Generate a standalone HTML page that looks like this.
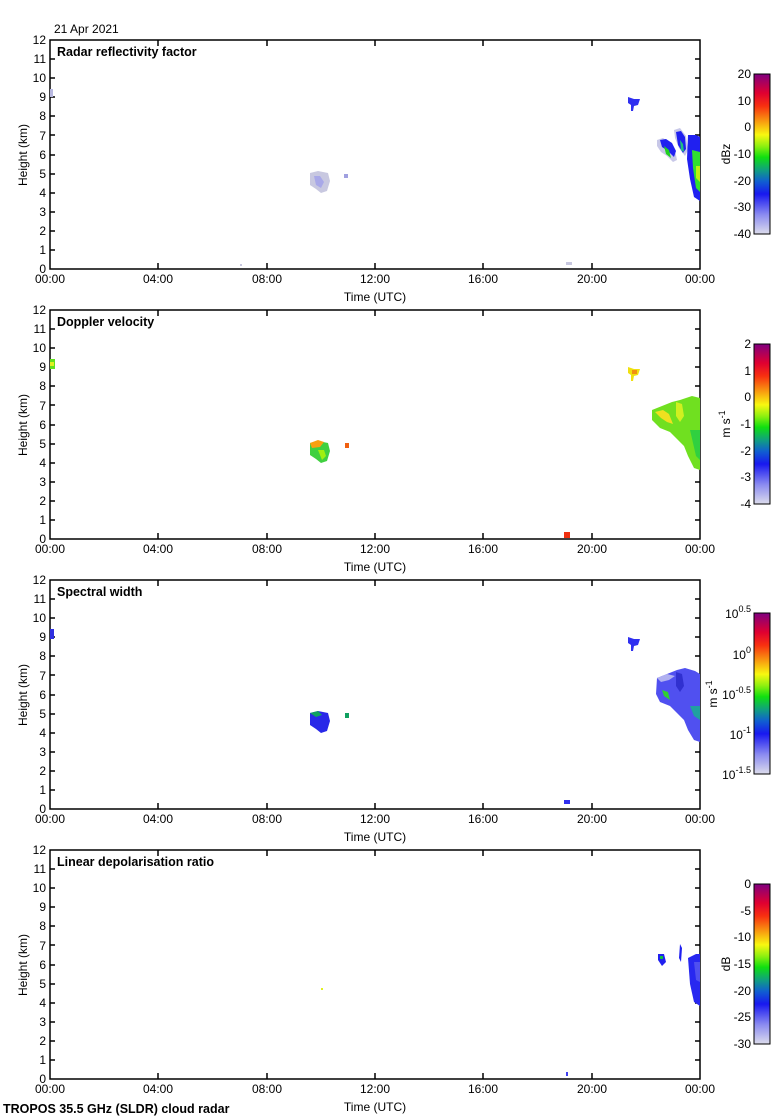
<!DOCTYPE html>
<html><head><meta charset="utf-8"><style>
html,body{margin:0;padding:0;background:#fff}
svg{display:block}
text{font-family:"Liberation Sans",sans-serif;font-size:12px;fill:#000}
.t{font-weight:bold;font-size:12.5px}
</style></head><body>
<svg width="780" height="1120" viewBox="0 0 780 1120" xmlns="http://www.w3.org/2000/svg">
<defs>
<linearGradient id="cb" x1="0" y1="1" x2="0" y2="0">
<stop offset="0" stop-color="#dcdcec"/>
<stop offset="0.12" stop-color="#8c8cf0"/>
<stop offset="0.25" stop-color="#1818f0"/>
<stop offset="0.33" stop-color="#1060d0"/>
<stop offset="0.40" stop-color="#10a080"/>
<stop offset="0.48" stop-color="#10e010"/>
<stop offset="0.55" stop-color="#90f010"/>
<stop offset="0.62" stop-color="#f8f810"/>
<stop offset="0.70" stop-color="#f8a010"/>
<stop offset="0.80" stop-color="#f83010"/>
<stop offset="0.88" stop-color="#e00030"/>
<stop offset="1" stop-color="#800080"/>
</linearGradient>
<g id="axes">
<rect x="50" y="0" width="650" height="229" fill="none" stroke="#000" stroke-width="1.5"/>
<path d="M50 210h5M50 191h5M50 172h5M50 153h5M50 134h5M50 115h5M50 95h5M50 76h5M50 57h5M50 38h5M50 19h5M700 210h-5M700 191h-5M700 172h-5M700 153h-5M700 134h-5M700 115h-5M700 95h-5M700 76h-5M700 57h-5M700 38h-5M700 19h-5M158 229v-6M267 229v-6M375 229v-6M483 229v-6M592 229v-6M158 0v6M267 0v6M375 0v6M483 0v6M592 0v6" stroke="#000" stroke-width="1.5" fill="none"/>
<g text-anchor="end">
<text x="46" y="233">0</text><text x="46" y="214">1</text><text x="46" y="195">2</text><text x="46" y="176">3</text><text x="46" y="157">4</text><text x="46" y="138">5</text><text x="46" y="119">6</text><text x="46" y="100">7</text><text x="46" y="80">8</text><text x="46" y="61">9</text><text x="46" y="42">10</text><text x="46" y="23">11</text><text x="46" y="4">12</text>
</g>
<g text-anchor="middle">
<text x="50" y="243">00:00</text><text x="158" y="243">04:00</text><text x="267" y="243">08:00</text><text x="375" y="243">12:00</text><text x="483" y="243">16:00</text><text x="592" y="243">20:00</text><text x="700" y="243">00:00</text>
<text x="375" y="261">Time (UTC)</text>
</g>
<text transform="translate(27,115) rotate(-90)" text-anchor="middle">Height (km)</text>
</g>
</defs>

<text x="54" y="33">21 Apr 2021</text>

<!-- Panel 1 -->
<g transform="translate(0,40)">
<use href="#axes"/>
<text class="t" x="57" y="16">Radar reflectivity factor</text>
<path d="M50 49h3v8h-3z" fill="#b8b8e0"/>
<path d="M310 133l8-2 10 2 2 8-3 10-6 2-5-4-6-4z" fill="#c8c8e0"/>
<path d="M314 136l6 0 4 6-3 6-5-3z" fill="#a8a8e8"/>
<path d="M344 134h4v4h-4z" fill="#a0a0e0"/>
<path d="M628 57l6 2 6 0-2 6-4 1-1 5h-2l0-6-3-2z" fill="#3030f0"/>
<path d="M657 100l6-2 6 4 6 8 2 10-4 2-6-6-6-4-4-6z" fill="#c8c8e8"/>
<path d="M660 100l6-1 6 4 4 8-2 6-6-6-6-4z" fill="#2020f0"/>
<path d="M674 90l6-2 6 8 2 14-3 6-6-8-4-10z" fill="#c8c8e8"/>
<path d="M676 92l5-1 4 6 1 12-3 4-5-8z" fill="#2020f0"/>
<path d="M688 95l8 0 4 2v64l-6-4-4-18-3-20z" fill="#2020f0"/>
<path d="M664 106l5 4 2 8-5-4z" fill="#20d020"/>
<path d="M692 110l8 2v40l-4-4-3-20z" fill="#30e030"/>
<path d="M696 126l4 0v16l-4-4z" fill="#c0f010"/>
<path d="M680 100l3 4 1 8-3-2z" fill="#20c080"/>
<path d="M240 224h2v2h-2zM566 222h6v3h-6z" fill="#c8c8e0"/>
<rect x="754" y="34" width="16" height="160" fill="url(#cb)" stroke="#000"/>
<g text-anchor="end" font-size="13"><text x="751" y="38">20</text><text x="751" y="65">10</text><text x="751" y="91">0</text><text x="751" y="118">-10</text><text x="751" y="145">-20</text><text x="751" y="171">-30</text><text x="751" y="198">-40</text></g>
<text transform="translate(730,114) rotate(-90)" text-anchor="middle">dBz</text>
</g>

<!-- Panel 2 -->
<g transform="translate(0,310)">
<use href="#axes"/>
<text class="t" x="57" y="16">Doppler velocity</text>
<path d="M50 49h5v10h-5z" fill="#60e020"/>
<path d="M50 52h4v4h-4z" fill="#e0f020"/>
<path d="M310 133l8-2 10 2 2 8-3 10-6 2-5-4-6-4z" fill="#40d040"/>
<path d="M310 133l8-3 6 2-4 5-8 1z" fill="#f8a010"/>
<path d="M318 140l6 0 2 6-4 4z" fill="#a0f010"/>
<path d="M345 133h4v5h-4z" fill="#f06010"/>
<path d="M564 222h6v6h-6z" fill="#f03010"/>
<path d="M628 57l6 2 6 0-2 6-4 1-1 5h-2l0-6-3-2z" fill="#f0e010"/>
<path d="M632 60h5v4h-5z" fill="#f09010"/>
<path d="M652 100l10-4 10-4 8-2 12-4 8 2v72l-6-2-6-12-4-10-6-6-8-8-10-4-8-8z" fill="#70e020"/>
<path d="M655 102l8-2 6 4 4 10-6-2-6-4z" fill="#f0e020"/>
<path d="M676 92l6 2 2 12-4 6-4-6z" fill="#d0f020"/>
<path d="M690 120l10 0v30l-4-4z" fill="#30d040"/>
<rect x="754" y="34" width="16" height="160" fill="url(#cb)" stroke="#000"/>
<g text-anchor="end" font-size="13"><text x="751" y="38">2</text><text x="751" y="65">1</text><text x="751" y="91">0</text><text x="751" y="118">-1</text><text x="751" y="145">-2</text><text x="751" y="171">-3</text><text x="751" y="198">-4</text></g>
<text transform="translate(730,114) rotate(-90)" text-anchor="middle">m s<tspan dy="-5" font-size="9">-1</tspan></text>
</g>

<!-- Panel 3 -->
<g transform="translate(0,580)">
<use href="#axes"/>
<text class="t" x="57" y="16">Spectral width</text>
<path d="M50 49h4v10h-4z" fill="#3030e0"/>
<path d="M310 133l8-2 10 2 2 8-3 10-6 2-5-4-6-4z" fill="#2828e8"/>
<path d="M310 133l8-2 4 4-6 2z" fill="#10a060"/>
<path d="M345 133h4v5h-4z" fill="#10a060"/>
<path d="M564 220h6v4h-6z" fill="#3030f0"/>
<path d="M628 57l6 2 6 0-2 6-4 1-1 5h-2l0-6-3-2z" fill="#3030f0"/>
<path d="M657 98l10-4 10-4 8-2 10 3 5 3v68l-6-2-6-10-4-10-6-6-8-8-10-4-4-8z" fill="#5050f0"/>
<path d="M657 98l10-4 8 2-6 4-8 2z" fill="#b0b0f0"/>
<path d="M662 110l6 2 2 8-6-4z" fill="#30d030"/>
<path d="M690 126l10 0v14l-6-4z" fill="#20a0a0"/>
<path d="M676 92l6 2 2 12-4 6-4-6z" fill="#3030d0"/>
<rect x="754" y="33" width="16" height="161" fill="url(#cb)" stroke="#000"/>
<g text-anchor="end" font-size="13">
<text x="751" y="38">10<tspan dy="-6" font-size="9">0.5</tspan></text>
<text x="751" y="79">10<tspan dy="-6" font-size="9">0</tspan></text>
<text x="751" y="119">10<tspan dy="-6" font-size="9">-0.5</tspan></text>
<text x="751" y="159">10<tspan dy="-6" font-size="9">-1</tspan></text>
<text x="751" y="199">10<tspan dy="-6" font-size="9">-1.5</tspan></text>
</g>
<text transform="translate(717,114) rotate(-90)" text-anchor="middle">m s<tspan dy="-5" font-size="9">-1</tspan></text>
</g>

<!-- Panel 4 -->
<g transform="translate(0,850)">
<use href="#axes"/>
<text class="t" x="57" y="16">Linear depolarisation ratio</text>
<path d="M321 138h2v2h-2z" fill="#e0f020"/>
<path d="M658 104l6 0 2 8-4 4-4-6z" fill="#2020f0"/>
<path d="M660 106h3v3h-3z" fill="#10c040"/>
<path d="M680 94l2 4-1 14-2-4z" fill="#2020f0"/>
<path d="M688 108l8-4 4 0v52l-6-4-4-18z" fill="#2828f0"/>
<path d="M694 112l6 0v20l-4-2z" fill="#5050f0"/>
<path d="M566 222h2v4h-2z" fill="#4040f0"/>
<rect x="754" y="34" width="16" height="160" fill="url(#cb)" stroke="#000"/>
<g text-anchor="end" font-size="13"><text x="751" y="38">0</text><text x="751" y="65">-5</text><text x="751" y="91">-10</text><text x="751" y="118">-15</text><text x="751" y="145">-20</text><text x="751" y="171">-25</text><text x="751" y="198">-30</text></g>
<text transform="translate(730,114) rotate(-90)" text-anchor="middle">dB</text>
</g>

<text class="t" x="3" y="1113">TROPOS 35.5 GHz (SLDR) cloud radar</text>
</svg>
</body></html>
